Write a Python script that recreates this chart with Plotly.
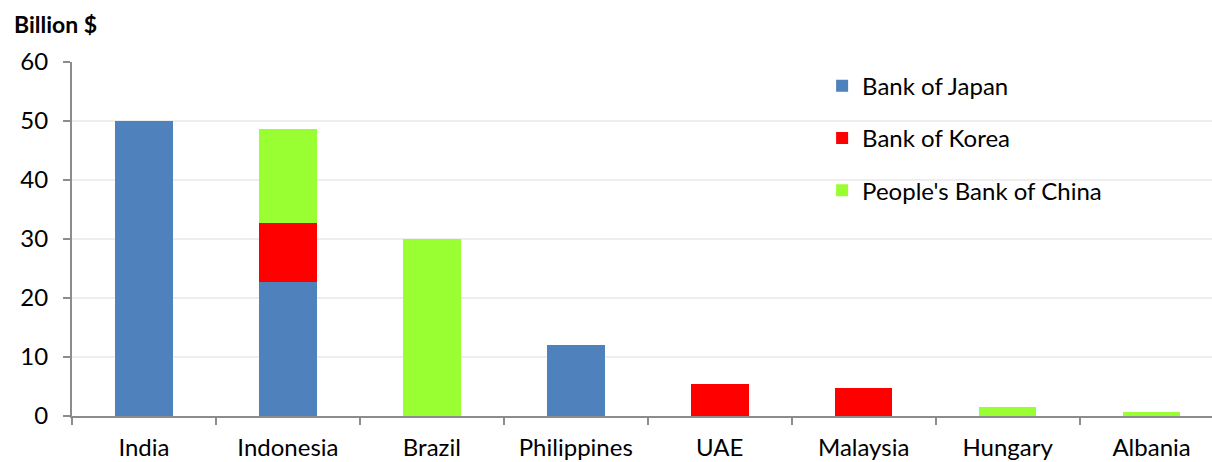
import plotly.graph_objects as go

categories = ["India", "Indonesia", "Brazil", "Philippines", "UAE", "Malaysia", "Hungary", "Albania"]
bank_of_japan = [50, 22.7, None, 12, None, None, None, None]
bank_of_korea = [None, 10.0, None, None, 5.4, 4.7, None, None]
peoples_bank_of_china = [None, 15.9, 30, None, None, None, 1.6, 0.65]
y_ticks = [0, 10, 20, 30, 40, 50, 60]

FONT = "Lato"
FS = 24

fig = go.Figure()
fig.add_trace(go.Bar(name="Bank of Japan", x=categories, y=bank_of_japan,
                     marker=dict(color="#4F81BD", line=dict(width=0)), legendgroup="a"))
fig.add_trace(go.Bar(name="Bank of Korea", x=categories, y=bank_of_korea,
                     marker=dict(color="#FF0000", line=dict(width=0)), legendgroup="b"))
fig.add_trace(go.Bar(name="People's Bank of China", x=categories, y=peoples_bank_of_china,
                     marker=dict(color="#99FF33", line=dict(width=0)), legendgroup="c"))

fig.update_layout(
    width=1212, height=462,
    margin=dict(l=72, r=0, t=62, b=46),
    paper_bgcolor="white", plot_bgcolor="white",
    barmode="stack", bargap=0.6,
    font=dict(family=FONT, size=FS, color="black"),
    showlegend=True,
    legend=dict(x=0.658, y=0.995, xanchor="left", yanchor="top",
                traceorder="grouped", tracegroupgap=18,
                font=dict(family=FONT, size=FS, color="black"),
                bgcolor="rgba(0,0,0,0)"),
    xaxis=dict(range=[-0.5, 7.42], showgrid=False, showline=True, linecolor="#8c8c8c",
               linewidth=2, ticks="outside", tickson="boundaries", ticklen=7,
               tickcolor="#8c8c8c", tickwidth=2, ticklabelstandoff=9, automargin=False,
               tickfont=dict(family=FONT, size=FS, color="black"), fixedrange=True),
    yaxis=dict(range=[0, 60], tickvals=y_ticks, showgrid=True, gridcolor="#eeeeee",
               gridwidth=2, showline=True, linecolor="#8c8c8c", linewidth=2,
               ticks="outside", ticklen=7, tickcolor="#8c8c8c", tickwidth=2,
               zeroline=False, ticklabelstandoff=10, automargin=False,
               tickfont=dict(family=FONT, size=FS, color="black")),
    annotations=[dict(text="<b>Billion $</b>", x=(12 - 72) / 1140, y=(416 - 24) / 354,
                      xref="paper", yref="paper",
                      showarrow=False, font=dict(family=FONT, size=23, color="black"),
                      xanchor="left", yanchor="middle")],
)

fig.write_html("out.html")
